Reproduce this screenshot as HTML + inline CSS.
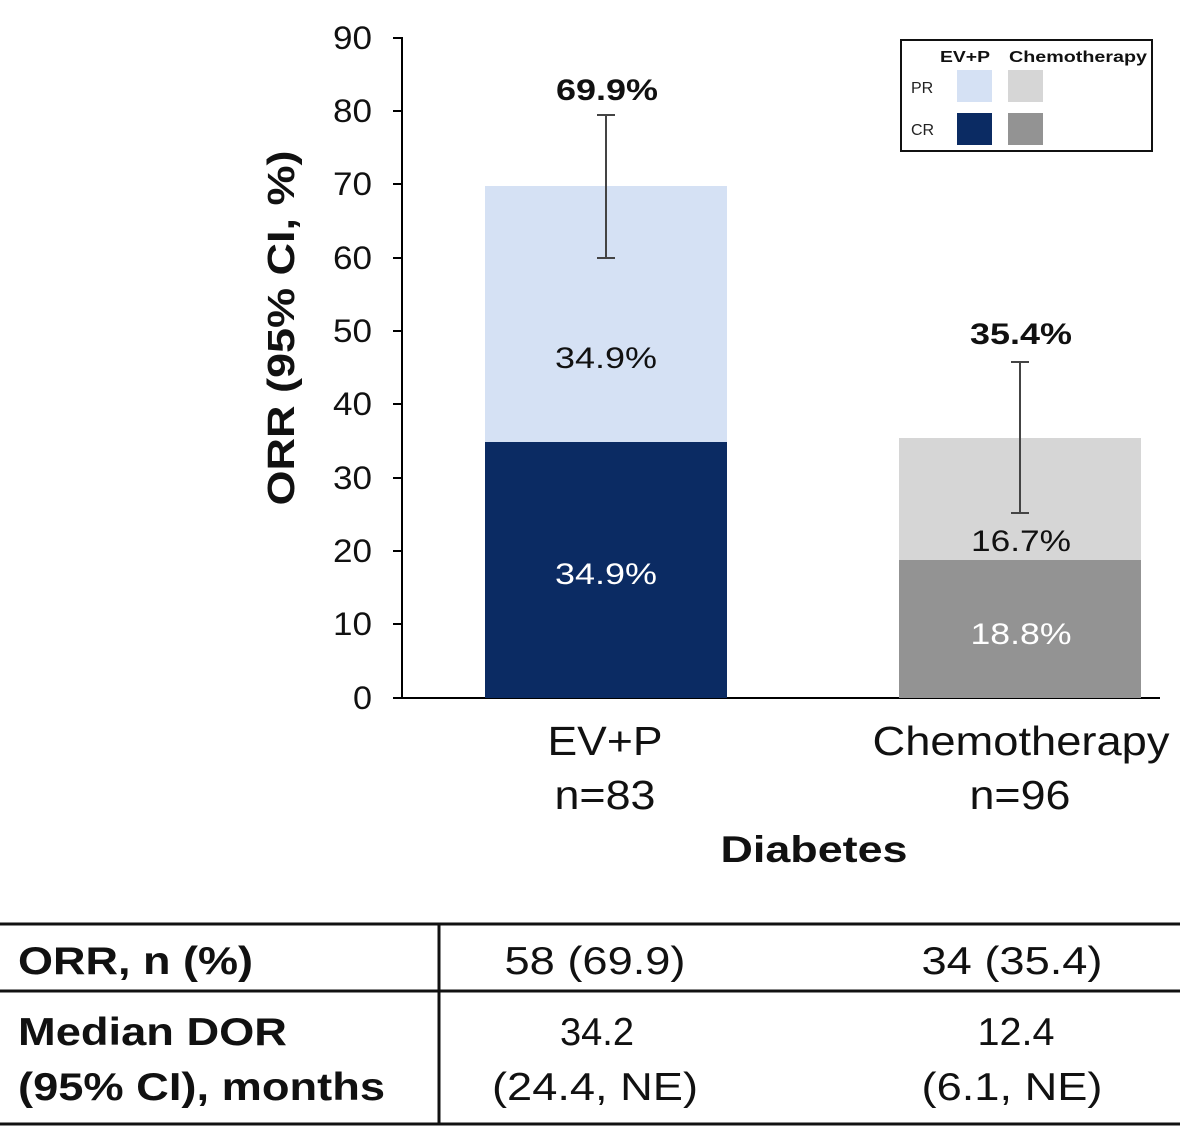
<!DOCTYPE html><html><head><style>body{margin:0;background:#fff}</style></head><body>
<svg width="1180" height="1140" xmlns="http://www.w3.org/2000/svg" font-family="Liberation Sans, sans-serif">
<rect width="1180" height="1140" fill="#fff"/>
<g stroke="#000" stroke-width="2">
<line x1="402" y1="37" x2="402" y2="698"/>
<line x1="402" y1="698" x2="1160" y2="698"/>
<line x1="393" y1="38" x2="402" y2="38"/><line x1="393" y1="111" x2="402" y2="111"/><line x1="393" y1="184" x2="402" y2="184"/><line x1="393" y1="258" x2="402" y2="258"/><line x1="393" y1="331" x2="402" y2="331"/><line x1="393" y1="404" x2="402" y2="404"/><line x1="393" y1="478" x2="402" y2="478"/><line x1="393" y1="551" x2="402" y2="551"/><line x1="393" y1="624" x2="402" y2="624"/><line x1="393" y1="698" x2="402" y2="698"/>
</g>
<g font-size="32" text-anchor="end" fill="#111">
<text x="372" y="49" textLength="39" lengthAdjust="spacingAndGlyphs">90</text><text x="372" y="122" textLength="39" lengthAdjust="spacingAndGlyphs">80</text><text x="372" y="195" textLength="39" lengthAdjust="spacingAndGlyphs">70</text><text x="372" y="269" textLength="39" lengthAdjust="spacingAndGlyphs">60</text><text x="372" y="342" textLength="39" lengthAdjust="spacingAndGlyphs">50</text><text x="372" y="415" textLength="39" lengthAdjust="spacingAndGlyphs">40</text><text x="372" y="489" textLength="39" lengthAdjust="spacingAndGlyphs">30</text><text x="372" y="562" textLength="39" lengthAdjust="spacingAndGlyphs">20</text><text x="372" y="635" textLength="39" lengthAdjust="spacingAndGlyphs">10</text><text x="372" y="709" textLength="19" lengthAdjust="spacingAndGlyphs">0</text>
</g>
<text transform="translate(294,328) rotate(-90)" font-size="38" font-weight="bold" text-anchor="middle" fill="#111" textLength="355" lengthAdjust="spacingAndGlyphs">ORR (95% CI, %)</text>
<rect x="485" y="186" width="242" height="256" fill="#d5e1f4"/>
<rect x="485" y="442" width="242" height="256" fill="#0b2b63"/>
<rect x="899" y="438" width="242" height="122" fill="#d6d6d6"/>
<rect x="899" y="560" width="242" height="138" fill="#939393"/>
<g stroke="#444" stroke-width="2">
<line x1="606" y1="115" x2="606" y2="258"/><line x1="597" y1="115" x2="615" y2="115"/><line x1="597" y1="258" x2="615" y2="258"/>
<line x1="1020" y1="362" x2="1020" y2="513"/><line x1="1011" y1="362" x2="1029" y2="362"/><line x1="1011" y1="513" x2="1029" y2="513"/>
</g>
<g font-size="30" text-anchor="middle">
<text x="607" y="100" font-weight="bold" fill="#111" textLength="102" lengthAdjust="spacingAndGlyphs">69.9%</text>
<text x="606" y="368" fill="#111" textLength="102" lengthAdjust="spacingAndGlyphs">34.9%</text>
<text x="606" y="584" fill="#fff" textLength="102" lengthAdjust="spacingAndGlyphs">34.9%</text>
<text x="1021" y="344" font-weight="bold" fill="#111" textLength="102" lengthAdjust="spacingAndGlyphs">35.4%</text>
<text x="1021" y="551" fill="#111" textLength="100" lengthAdjust="spacingAndGlyphs">16.7%</text>
<text x="1021" y="644" fill="#fff" textLength="101" lengthAdjust="spacingAndGlyphs">18.8%</text>
<text x="605" y="755" font-size="41" fill="#111" textLength="115" lengthAdjust="spacingAndGlyphs">EV+P</text>
<text x="605" y="809" font-size="41" fill="#111" textLength="101" lengthAdjust="spacingAndGlyphs">n=83</text>
<text x="1021" y="755" font-size="41" fill="#111" textLength="297" lengthAdjust="spacingAndGlyphs">Chemotherapy</text>
<text x="1020" y="809" font-size="41" fill="#111" textLength="101" lengthAdjust="spacingAndGlyphs">n=96</text>
<text x="814" y="862" font-size="37" font-weight="bold" fill="#111" textLength="187" lengthAdjust="spacingAndGlyphs">Diabetes</text>
</g>
<rect x="901" y="40" width="251" height="111" fill="#fff" stroke="#111" stroke-width="2"/>
<text x="940" y="62" font-size="16" font-weight="bold" fill="#111" textLength="50" lengthAdjust="spacingAndGlyphs">EV+P</text>
<text x="1009" y="62" font-size="16" font-weight="bold" fill="#111" textLength="138" lengthAdjust="spacingAndGlyphs">Chemotherapy</text>
<text x="911" y="93" font-size="16" fill="#222">PR</text>
<text x="911" y="135" font-size="16" fill="#222">CR</text>
<rect x="957" y="70" width="35" height="32" fill="#d5e1f4"/><rect x="1008" y="70" width="35" height="32" fill="#d6d6d6"/>
<rect x="957" y="113" width="35" height="32" fill="#0b2b63"/><rect x="1008" y="113" width="35" height="32" fill="#939393"/>
<g stroke="#111" stroke-width="3">
<line x1="0" y1="924" x2="1180" y2="924"/><line x1="0" y1="991" x2="1180" y2="991"/><line x1="0" y1="1124" x2="1180" y2="1124"/><line x1="439" y1="924" x2="439" y2="1124"/>
</g>
<g font-size="39" fill="#111">
<text x="18" y="974" font-weight="bold" textLength="235" lengthAdjust="spacingAndGlyphs">ORR, n (%)</text>
<text x="18" y="1045" font-weight="bold" textLength="269" lengthAdjust="spacingAndGlyphs">Median DOR</text>
<text x="18" y="1100" font-weight="bold" textLength="367" lengthAdjust="spacingAndGlyphs">(95% CI), months</text>
<g text-anchor="middle">
<text x="595" y="974" textLength="181" lengthAdjust="spacingAndGlyphs">58 (69.9)</text><text x="1012" y="974" textLength="181" lengthAdjust="spacingAndGlyphs">34 (35.4)</text>
<text x="597" y="1045" textLength="74" lengthAdjust="spacingAndGlyphs">34.2</text><text x="1016" y="1045" textLength="77" lengthAdjust="spacingAndGlyphs">12.4</text>
<text x="595" y="1100" textLength="206" lengthAdjust="spacingAndGlyphs">(24.4, NE)</text><text x="1012" y="1100" textLength="181" lengthAdjust="spacingAndGlyphs">(6.1, NE)</text>
</g></g>
</svg></body></html>
